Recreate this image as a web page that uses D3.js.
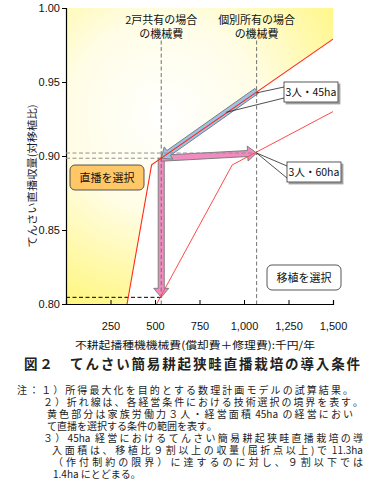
<!DOCTYPE html>
<html>
<head>
<meta charset="utf-8">
<script src="https://cdn.jsdelivr.net/npm/d3@7"></script>
<style>
  body { margin: 0; background: #fff; }
  svg { display: block; }
</style>
</head>
<body>
<svg width="374" height="503"></svg>
<script>
// values
var xTicks = [250, 500, 750, 1000, 1250, 1500];
var yTicks = [0.80, 0.85, 0.90, 0.95, 1.00];
var line45 = [[343, 0.80], [481, 0.894], [1500, 0.979]];   // 3人・45ha boundary
var line60 = [[509, 0.80], [934, 0.894], [1500, 0.930]];   // 3人・60ha boundary
var costShared = 535;   // 2戸共有の場合の機械費
var costOwned = 1071;   // 個別所有の場合の機械費
var yieldShared45 = 0.8985, yieldOwned45 = 0.944, yieldOwned60 = 0.902, yieldShared60 = 0.8045;
var notes = [
  "注：１）所得最大化を目的とする数理計画モデルの試算結果。",
  "２）折れ線は、各経営条件における技術選択の境界を表す。",
  "黄色部分は家族労働力３人・経営面積 45ha の経営におい",
  "て直播を選択する条件の範囲を表す。",
  "３）45ha 経営におけるてんさい簡易耕起狭畦直播栽培の導",
  "入面積は、移植比９割以上の収量(屈折点以上)で 11.3ha",
  "（作付制約の限界）に達するのに対し、９割以下では",
  "1.4ha にとどまる。"
];

var jp = "'Noto Sans CJK JP', sans-serif";
var num = "'Liberation Sans', Arial, sans-serif";

var svg = d3.select("svg");
var x = d3.scaleLinear().domain([0, 1500]).range([66, 333]);
var y = d3.scaleLinear().domain([0.80, 1.00]).range([304, 8]);

var defs = svg.append("defs");
var grad = defs.append("radialGradient").attr("id", "yel")
  .attr("gradientUnits", "userSpaceOnUse")
  .attr("cx", 165).attr("cy", 115).attr("r", 215);
grad.append("stop").attr("offset", "0%").attr("stop-color", "#ffffff");
grad.append("stop").attr("offset", "45%").attr("stop-color", "#fffde6");
grad.append("stop").attr("offset", "100%").attr("stop-color", "#fff67c");

var shadow = defs.append("filter").attr("id", "sh").attr("x", "-20%").attr("y", "-20%").attr("width", "150%").attr("height", "160%");
shadow.append("feDropShadow").attr("dx", 2).attr("dy", 2).attr("stdDeviation", 0.6)
  .attr("flood-color", "#888").attr("flood-opacity", 0.8);

// yellow area left of the 45ha boundary
var area = [[0, 0.80]].concat(line45).concat([[1500, 1.00], [0, 1.00]]);
svg.append("path")
  .attr("d", d3.line().x(function(d) { return x(d[0]); }).y(function(d) { return y(d[1]); })(area) + "Z")
  .attr("fill", "url(#yel)");

// axes
var yAxis = svg.append("g").attr("transform", "translate(66,0)")
  .call(d3.axisLeft(y).tickValues(yTicks).tickSize(4).tickPadding(2).tickFormat(d3.format(".2f")));
var xAxis = svg.append("g").attr("transform", "translate(0,304)")
  .call(d3.axisBottom(x).tickValues(xTicks).tickSize(-4).tickPadding(18).tickFormat(d3.format(",")));
[yAxis, xAxis].forEach(function(g) {
  g.select(".domain").attr("stroke", "#000").attr("stroke-width", 1.2);
  g.selectAll(".tick line").attr("stroke", "#000");
  g.selectAll("text").attr("font-family", num).attr("font-size", 11).attr("fill", "#111");
});
yAxis.selectAll("text").attr("dy", "0.35em");

// arrows
function arrowPath(p0, p1, s, h, hl) {
  var dx = p1[0] - p0[0], dy = p1[1] - p0[1], len = Math.sqrt(dx * dx + dy * dy);
  var ux = dx / len, uy = dy / len, nx = -uy, ny = ux, b = len - hl;
  var pts = [[0, -s], [b, -s], [b, -h], [len, 0], [b, h], [b, s], [0, s]];
  return "M" + pts.map(function(p) {
    return [p0[0] + ux * p[0] + nx * p[1], p0[1] + uy * p[0] + ny * p[1]].join(",");
  }).join("L") + "Z";
}
var arrows = [
  {from: [costShared, yieldShared45], to: [costShared, yieldShared60], fill: "#f08cbf"},
  {from: [costShared, yieldShared45], to: [costOwned, yieldOwned60], fill: "#f08cbf"},
  {from: [costOwned, yieldOwned45], to: [costShared, yieldShared45], fill: "#9cc2e8"}
];
svg.selectAll("path.arrow").data(arrows).enter().append("path")
  .attr("class", "arrow")
  .attr("d", function(d) {
    return arrowPath([x(d.from[0]), y(d.from[1])], [x(d.to[0]), y(d.to[1])], 3, 7.5, 9);
  })
  .attr("fill", function(d) { return d.fill; })
  .attr("stroke", "#7f7f7f").attr("stroke-width", 1);

// dashed guides
var guides = [
  {x1: costShared, y1: 0.978, x2: costShared, y2: 0.80, c: "#707070"},
  {x1: costOwned, y1: 0.978, x2: costOwned, y2: 0.80, c: "#707070"},
  {x1: 0, y1: yieldOwned60, x2: costOwned, y2: yieldOwned60, c: "#909090"},
  {x1: 0, y1: yieldShared45, x2: costShared, y2: yieldShared45, c: "#909090"},
  {x1: 0, y1: yieldShared60, x2: costShared, y2: yieldShared60, c: "#000"}
];
svg.selectAll("line.guide").data(guides).enter().append("line")
  .attr("class", "guide")
  .attr("x1", function(d) { return x(d.x1); }).attr("y1", function(d) { return y(d.y1); })
  .attr("x2", function(d) { return x(d.x2); }).attr("y2", function(d) { return y(d.y2); })
  .attr("stroke", function(d) { return d.c; })
  .attr("stroke-width", 1).attr("stroke-dasharray", "4,2.5");

// boundary lines
var lineGen = d3.line().x(function(d) { return x(d[0]); }).y(function(d) { return y(d[1]); });
svg.append("path").attr("d", lineGen(line45)).attr("fill", "none").attr("stroke", "#ff2a1a").attr("stroke-width", 1.1);
svg.append("path").attr("d", lineGen(line60)).attr("fill", "none").attr("stroke", "#ff4a4a").attr("stroke-width", 1);

// callouts
function callout(bx, by, bw, bh, label, leaders) {
  leaders.forEach(function(l) {
    svg.append("line").attr("x1", l[0]).attr("y1", l[1]).attr("x2", l[2]).attr("y2", l[3])
      .attr("stroke", "#222").attr("stroke-width", 0.8);
  });
  svg.append("rect").attr("x", bx).attr("y", by).attr("width", bw).attr("height", bh)
    .attr("fill", "#fff").attr("stroke", "#333").attr("stroke-width", 0.8).attr("filter", "url(#sh)");
  svg.append("text").attr("x", bx + bw / 2).attr("y", by + bh / 2 + 4)
    .attr("text-anchor", "middle").attr("font-family", jp).attr("font-size", 10.5).attr("fill", "#111")
    .text(label);
}
callout(284, 82, 54, 20, "3人・45ha", [
  [284, 87, x(costOwned), y(yieldOwned45) + 2],
  [284, 98, x(900), y(0.9295)]
]);
callout(287, 162, 54, 20, "3人・60ha", [
  [287, 166, x(costOwned), y(yieldOwned60)],
  [287, 178, x(costOwned), y(yieldOwned60)]
]);

// choice boxes
var boxes = [
  {x: 70, y: 165, label: "直播を選択", fill: "#ffc766"},
  {x: 267, y: 265, label: "移植を選択", fill: "#fff"}
];
svg.selectAll("rect.choice").data(boxes).enter().append("rect")
  .attr("class", "choice")
  .attr("x", function(d) { return d.x; }).attr("y", function(d) { return d.y; })
  .attr("width", 74).attr("height", 25).attr("rx", 5)
  .attr("fill", function(d) { return d.fill; }).attr("stroke", "#444").attr("stroke-width", 0.9);
svg.selectAll("text.choice").data(boxes).enter().append("text")
  .attr("class", "choice")
  .attr("x", function(d) { return d.x + 37; }).attr("y", function(d) { return d.y + 17; })
  .attr("text-anchor", "middle").attr("font-family", jp).attr("font-size", 11).attr("fill", "#111")
  .text(function(d) { return d.label; });

// cost headings
var heads = [
  {x: costShared, lines: ["2戸共有の場合", "の機械費"]},
  {x: costOwned, lines: ["個別所有の場合", "の機械費"]}
];
heads.forEach(function(h) {
  h.lines.forEach(function(t, i) {
    svg.append("text").attr("x", x(h.x)).attr("y", 24 + i * 13.5)
      .attr("text-anchor", "middle").attr("font-family", jp).attr("font-size", 11).attr("fill", "#111")
      .text(t);
  });
});

// axis titles
svg.append("text").attr("transform", "translate(35.5,176) rotate(-90)")
  .attr("text-anchor", "middle").attr("font-family", jp).attr("font-size", 10.5).attr("fill", "#1a1a2a")
  .attr("textLength", 143).attr("lengthAdjust", "spacingAndGlyphs")
  .text("てんさい直播収量(対移植比)");
svg.append("text").attr("x", 75).attr("y", 349)
  .attr("font-family", jp).attr("font-size", 10.5).attr("fill", "#111")
  .attr("textLength", 240).attr("lengthAdjust", "spacingAndGlyphs")
  .text("不耕起播種機機械費(償却費＋修理費):千円/年");

// caption
svg.append("text").attr("x", 24).attr("y", 369)
  .attr("font-family", jp).attr("font-size", 13.5).attr("font-weight", "bold").attr("fill", "#222")
  .attr("textLength", 336).attr("lengthAdjust", "spacing")
  .text("図２　てんさい簡易耕起狭畦直播栽培の導入条件");

// notes: justified lines, extra space only between wide characters / latin runs
var noteX = [17, 43, 47, 47, 43, 52, 53, 53];
var noteEnd = [353, 363, 353, null, 363, 363, 363, null];
var noteSize = 10;

function measure(t) {
  var tmp = svg.append("text").attr("font-family", jp).attr("font-size", noteSize)
    .style("white-space", "pre").text(t);
  var w = tmp.node().getComputedTextLength();
  tmp.remove();
  return w;
}

notes.forEach(function(line, i) {
  var units = line.match(/[\x20-\x7e]+|[^\x20-\x7e]/g);
  var widths = units.map(measure);
  var total = d3.sum(widths);
  var gap = noteEnd[i] ? (noteEnd[i] - noteX[i] - total) / (units.length - 1) : 0;
  var t = svg.append("text").attr("class", "note")
    .attr("y", 394 + i * 11.95)
    .attr("font-family", jp).attr("font-size", noteSize).attr("fill", "#222")
    .style("white-space", "pre");
  var cx = noteX[i];
  units.forEach(function(u, k) {
    t.append("tspan").attr("x", cx).text(u);
    cx += widths[k] + gap;
  });
});
</script>
</body>
</html>
